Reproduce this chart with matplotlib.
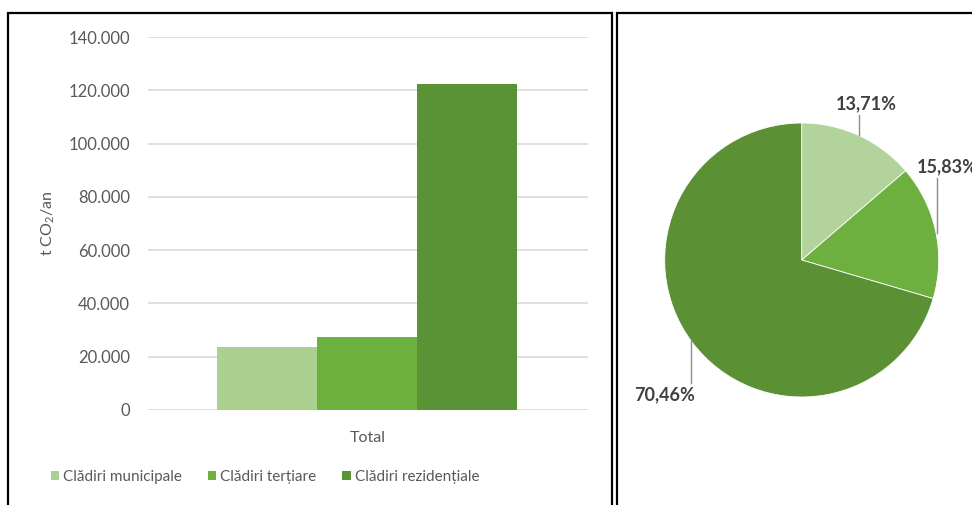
import matplotlib
matplotlib.use("Agg")
import matplotlib.pyplot as plt
from matplotlib.patches import Rectangle
from matplotlib.ticker import FuncFormatter

plt.rcParams['font.family'] = ['Lato', 'DejaVu Sans']
plt.rcParams['mathtext.fontset'] = 'custom'
plt.rcParams['mathtext.rm'] = 'Lato'

# data
categories = ['Clădiri municipale', 'Clădiri terțiare', 'Clădiri rezidențiale']
emissions = [23800, 27500, 122400]
shares = [13.71, 15.83, 70.46]
share_labels = ['13,71%', '15,83%', '70,46%']
bar_colors = ['#abd08f', '#6cb03e', '#5a9236']
pie_colors = ['#b2d49c', '#6eb03f', '#5b9034']

W, H = 972, 505
fig = plt.figure(figsize=(W / 100, H / 100), dpi=100)
fig.patch.set_facecolor('white')


def px(x0, y0, w, h):
    # pixel box (top-left origin) -> figure fraction
    return [x0 / W, 1 - (y0 + h) / H, w / W, h / H]


# panel frames
fig.patches.append(Rectangle((8 / W, -0.02), 604 / W, 1.02 - 13 / H, transform=fig.transFigure,
                             fill=False, edgecolor='black', linewidth=1.6, clip_on=False))
fig.patches.append(Rectangle((617 / W, -0.02), 400 / W, 1.02 - 13 / H, transform=fig.transFigure,
                             fill=False, edgecolor='black', linewidth=1.6, clip_on=False))

# ---- bar chart ----
ax = fig.add_axes(px(148, 37, 440, 373))
bw = 0.227
offsets = [-bw, 0, bw]
for off, val, col, lab in zip(offsets, emissions, bar_colors, categories):
    ax.bar(off - 0.003, val, width=bw, color=col, label=lab, zorder=3)
ax.set_xlim(-0.5, 0.5)
ax.set_ylim(0, 140000)
ax.set_yticks(range(0, 140001, 20000))
ax.yaxis.set_major_formatter(FuncFormatter(lambda v, p: f'{int(v):,}'.replace(',', '.')))
ax.grid(axis='y', color='#d9d9d9', linewidth=1.2, zorder=0)
for s in ax.spines.values():
    s.set_visible(False)
ax.tick_params(axis='y', length=0, labelsize=12, labelcolor='#595959', pad=13)
ax.set_xticks([0])
ax.set_xticklabels(['Total'], fontsize=11.5, color='#595959')
ax.tick_params(axis='x', length=0, pad=15)
ax.set_ylabel(r't CO$_2$/an', fontsize=11.5, color='#595959', labelpad=8)

ax.legend(loc='center', bbox_to_anchor=(265 / W, 1 - 477 / H), bbox_transform=fig.transFigure,
          ncol=3, frameon=False, fontsize=11, labelcolor='#595959',
          handlelength=0.55, handleheight=0.55, handletextpad=0.25, columnspacing=1.7)

# ---- pie chart ----
r = 137
cx, cy = 801.7, 260
pax = fig.add_axes(px(cx - r, cy - r, 2 * r, 2 * r))
pax.pie(shares, colors=pie_colors, startangle=90, counterclock=False,
        wedgeprops=dict(edgecolor='white', linewidth=0.6))
pax.set_xlim(-1, 1)
pax.set_ylim(-1, 1)
pax.set_aspect('equal')
pax.axis('off')

lab_kw = dict(fontsize=13, fontweight='bold', color='#404040', clip_on=False)
pax.plot([0.418, 0.418], [0.91, 1.06], color='#8c8c8c', linewidth=1, clip_on=False)
pax.text(0.474, 1.14, share_labels[0], ha='center', va='center', **lab_kw)
pax.plot([0.988, 0.988], [0.20, 0.60], color='#8c8c8c', linewidth=1, clip_on=False)
pax.text(0.842, 0.68, share_labels[1], ha='left', va='center', **lab_kw)
pax.plot([-0.808, -0.808], [-0.59, -0.90], color='#8c8c8c', linewidth=1, clip_on=False)
pax.text(-1.0, -0.98, share_labels[2], ha='center', va='center', **lab_kw)

fig.savefig('out.png', dpi=100, facecolor='white')
